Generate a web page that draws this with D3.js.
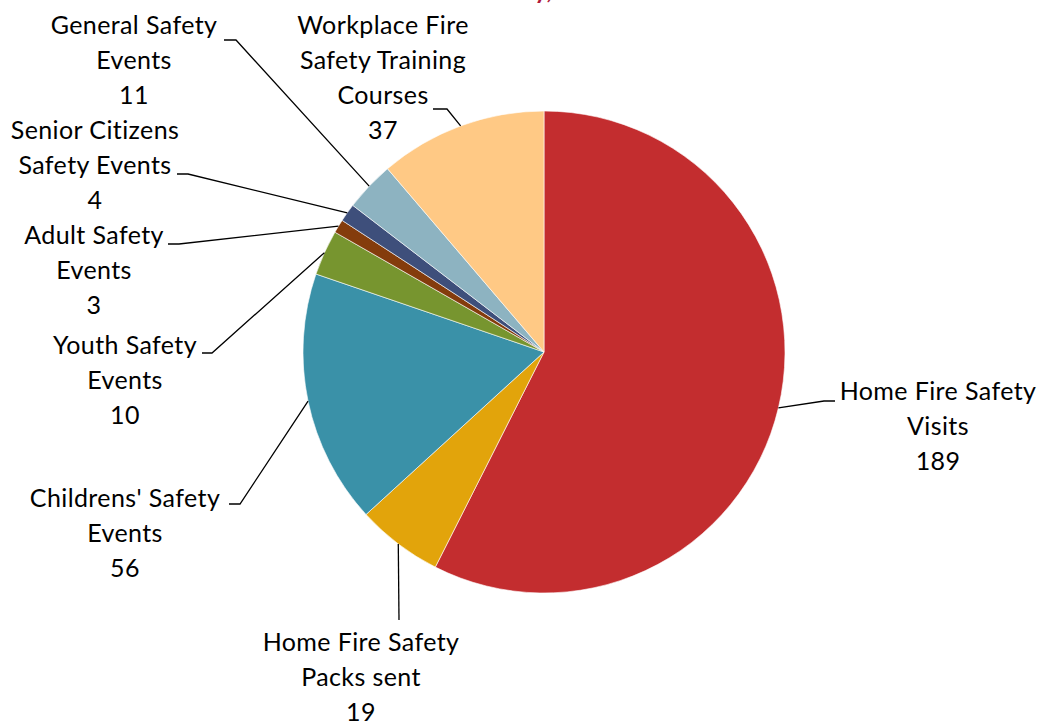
<!DOCTYPE html>
<html>
<head>
<meta charset="utf-8">
<script src="https://cdn.jsdelivr.net/npm/d3@7"></script>
<style>
  html, body { margin: 0; padding: 0; background: #ffffff; }
  svg { display: block; }
  text { font-family: Lato, "Open Sans", sans-serif; }
</style>
</head>
<body>
<svg id="chart" width="1041" height="724"></svg>
<script>
// ---- data ----
const categories = [
  "Home Fire Safety\nVisits",
  "Home Fire Safety\nPacks sent",
  "Childrens' Safety\nEvents",
  "Youth Safety\nEvents",
  "Adult Safety\nEvents",
  "Senior Citizens\nSafety Events",
  "General Safety\nEvents",
  "Workplace Fire\nSafety Training\nCourses"
];
const values = [189, 19, 56, 10, 3, 4, 11, 37];
const colors = ["#C32D2F", "#E2A40B", "#3A91A8", "#77952F", "#843C0C", "#3E4F7B", "#8DB3C1", "#FFC985"];
const titleText = "Activity,";

// ---- layout (label centres, first baselines, leader elbows) ----
const labelLayout = [
  { cx: 938, y: 400, ex: 824, ey: 401, hx: 835 },
  { cx: 361, y: 651, ex: 399, ey: 620, hx: 399 },
  { cx: 125, y: 507, ex: 240, ey: 504, hx: 229 },
  { cx: 125, y: 354, ex: 212, ey: 353, hx: 202 },
  { cx: 94,  y: 244, ex: 179, ey: 244, hx: 168 },
  { cx: 95,  y: 139, ex: 188, ey: 174, hx: 177 },
  { cx: 134, y: 34,  ex: 236, ey: 40,  hx: 224 },
  { cx: 383, y: 34,  ex: 447, ey: 109, hx: 433 }
];

const cx = 544, cy = 352, R = 241;
const svg = d3.select("#chart");

// cropped title (only the descenders show, as in the reference)
svg.append("text")
  .attr("x", 552).attr("y", -1)
  .attr("text-anchor", "end")
  .attr("font-size", 24).attr("font-weight", "bold")
  .attr("fill", "#B01A3A")
  .text(titleText);

const pie = d3.pie().sort(null).value(d => d)
  .startAngle(0).endAngle(2 * Math.PI);
const arcs = pie(values);
const arc = d3.arc().innerRadius(0).outerRadius(R);

const g = svg.append("g").attr("transform", `translate(${cx},${cy})`);
g.selectAll("path.slice")
  .data(arcs)
  .join("path")
  .attr("class", "slice")
  .attr("d", arc)
  .attr("fill", (d, i) => colors[i])
  .attr("stroke", "#ffffff")
  .attr("stroke-width", 0.6);

// leader lines
const leaders = svg.append("g");
arcs.forEach((d, i) => {
  const L = labelLayout[i];
  const a = (d.startAngle + d.endAngle) / 2;
  const px = cx + R * Math.sin(a);
  const py = cy - R * Math.cos(a);
  const pts = [[px, py], [L.ex, L.ey], [L.hx, L.ey]];
  leaders.append("path")
    .attr("d", d3.line()(pts))
    .attr("fill", "none")
    .attr("stroke", "#000")
    .attr("stroke-width", 1.3);
});

// labels
const labels = svg.append("g");
arcs.forEach((d, i) => {
  const L = labelLayout[i];
  const lines = categories[i].split("\n").concat([String(values[i])]);
  const t = labels.append("text")
    .attr("text-anchor", "middle")
    .attr("font-size", 25)
    .attr("letter-spacing", 0.4)
    .attr("fill", "#000");
  lines.forEach((ln, k) => {
    t.append("tspan").attr("x", L.cx).attr("y", L.y + k * 35).text(ln);
  });
});
</script>
</body>
</html>
